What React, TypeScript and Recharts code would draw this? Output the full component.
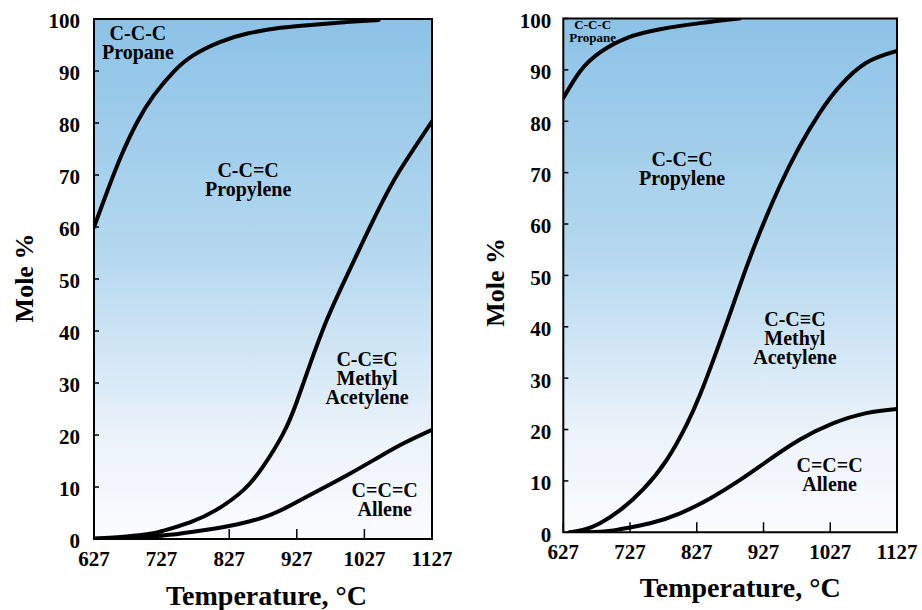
import React from 'react';
import { LineChart, Line, XAxis, YAxis, CartesianGrid, ReferenceArea, ReferenceDot, Label } from 'recharts';

const xTicks = [627, 727, 827, 927, 1027, 1127];
const yTicks = [0, 10, 20, 30, 40, 50, 60, 70, 80, 90, 100];

// Left panel
const leftPropane = [
  { t: 627, v: 60.0 }, { t: 647, v: 67.0 }, { t: 667, v: 73.6 }, { t: 691, v: 80.2 },
  { t: 716, v: 85.4 }, { t: 745, v: 89.9 }, { t: 775, v: 93.1 }, { t: 814, v: 95.6 },
  { t: 854, v: 97.2 }, { t: 903, v: 98.3 }, { t: 952, v: 98.9 }, { t: 1000, v: 99.4 },
  { t: 1048, v: 99.8 },
];
const leftMethylAcetylene = [
  { t: 627, v: 0.1 }, { t: 675, v: 0.5 }, { t: 710, v: 1.0 }, { t: 730, v: 1.6 },
  { t: 769, v: 3.2 }, { t: 808, v: 5.6 }, { t: 848, v: 9.4 }, { t: 877, v: 13.9 },
  { t: 907, v: 20.3 }, { t: 927, v: 26.4 }, { t: 946, v: 33.4 }, { t: 971, v: 42.0 },
  { t: 998, v: 49.8 }, { t: 1045, v: 62.6 }, { t: 1080, v: 71.0 }, { t: 1127, v: 80.3 },
];
const leftAllene = [
  { t: 627, v: 0 }, { t: 690, v: 0.3 }, { t: 739, v: 0.8 }, { t: 789, v: 1.7 },
  { t: 838, v: 2.8 }, { t: 887, v: 4.6 }, { t: 927, v: 7.1 }, { t: 966, v: 9.8 },
  { t: 1006, v: 12.6 }, { t: 1045, v: 15.5 }, { t: 1085, v: 18.4 }, { t: 1127, v: 21.0 },
];

// Right panel
const rightPropane = [
  { t: 627, v: 84.5 }, { t: 652, v: 89.7 }, { t: 682, v: 93.4 }, { t: 722, v: 96.2 },
  { t: 772, v: 97.9 }, { t: 832, v: 99.1 }, { t: 891, v: 100 },
];
const rightMethylAcetylene = [
  { t: 637, v: 0 }, { t: 660, v: 0.6 }, { t: 682, v: 1.75 }, { t: 712, v: 4.3 },
  { t: 747, v: 8.4 }, { t: 782, v: 14.1 }, { t: 812, v: 21.0 }, { t: 832, v: 26.8 },
  { t: 852, v: 33.6 }, { t: 877, v: 42.6 }, { t: 897, v: 50.0 }, { t: 921, v: 58.2 },
  { t: 951, v: 67.3 }, { t: 981, v: 75.1 }, { t: 1011, v: 81.6 }, { t: 1041, v: 86.8 },
  { t: 1081, v: 91.4 }, { t: 1127, v: 93.7 },
];
const rightAllene = [
  { t: 637, v: 0 }, { t: 682, v: 0.1 }, { t: 712, v: 0.6 }, { t: 757, v: 1.75 },
  { t: 802, v: 3.7 }, { t: 847, v: 6.6 }, { t: 892, v: 10.2 }, { t: 932, v: 13.8 },
  { t: 981, v: 18.0 }, { t: 1031, v: 21.2 }, { t: 1081, v: 23.2 }, { t: 1127, v: 24.0 },
];

const leftLabels = [
  { t: 692, v: 95.5, lines: ['C-C-C', 'Propane'] },
  { t: 855, v: 69.2, lines: ['C-C=C', 'Propylene'] },
  { t: 1031, v: 31.0, lines: ['C-C\u2261C', 'Methyl', 'Acetylene'] },
  { t: 1057, v: 7.6, lines: ['C=C=C', 'Allene'] },
];
const rightLabels = [
  { t: 671, v: 97.6, lines: ['C-C-C', 'Propane'] },
  { t: 805, v: 70.9, lines: ['C-C=C', 'Propylene'] },
  { t: 974, v: 37.9, lines: ['C-C\u2261C', 'Methyl', 'Acetylene'] },
  { t: 1026, v: 11.2, lines: ['C=C=C', 'Allene'] },
];

const FONT = '"Liberation Serif", "Times New Roman", serif';

const XTick = (props: any) => {
  const { x, y, payload, m } = props;
  const ay = y - m;
  return (
    <g>
      <line x1={x} x2={x} y1={ay} y2={ay - 10} stroke="#000" strokeWidth={1.5} />
      <text x={x} y={y} dy="0.71em" textAnchor="middle" fontFamily={FONT} fontWeight="bold" fontSize={21} fill="#000">
        {payload.value}
      </text>
    </g>
  );
};

const YTick = (props: any) => {
  const { x, y, payload, m } = props;
  const ax = x + m;
  return (
    <g>
      <line x1={ax} x2={ax + 5} y1={y} y2={y} stroke="#000" strokeWidth={1.5} />
      <text x={x} y={y} dy="0.45em" textAnchor="end" fontFamily={FONT} fontWeight="bold" fontSize={21} fill="#000">
        {payload.value}
      </text>
    </g>
  );
};

const makeLabelShape = (lines: string[], fs: number, lh: number) => (p: any) => {
  const { cx, cy } = p;
  const n = lines.length;
  return (
    <text textAnchor="middle" fontFamily={FONT} fontWeight="bold" fontSize={fs} fill="#000">
      {lines.map((ln, i) => (
        <tspan key={i} x={cx} y={cy + (i - (n - 1) / 2) * lh + 0.35 * fs}>{ln}</tspan>
      ))}
    </text>
  );
};

type PanelCfg = {
  gid: string; width: number; top: number; right: number; xh: number; yw: number; ym: number;
  series: { t: number; v: number }[][];
  labels: { t: number; v: number; lines: string[] }[];
  labelSizes: number[]; labelLH: number[];
  xdx: number; xoff: number; ydy: number; yoff: number;
};

function Panel({ c }: { c: PanelCfg }) {
  return (
    <LineChart width={c.width} height={610} margin={{ top: c.top, right: c.right, bottom: 0, left: 0 }}>
      <defs>
        <linearGradient id={c.gid} x1="0" y1="0" x2="0" y2="1">
          <stop offset="0%" stopColor="#8cc2e6" />
          <stop offset="45%" stopColor="#b4d8ef" />
          <stop offset="80%" stopColor="#eaf2fa" />
          <stop offset="100%" stopColor="#fcfcfe" />
        </linearGradient>
      </defs>
      <CartesianGrid horizontal={false} vertical={false} fill={`url(#${c.gid})`} fillOpacity={1} stroke="none" />
      <XAxis type="number" dataKey="t" domain={[627, 1127]} ticks={xTicks} interval={0} allowDataOverflow
        height={c.xh} axisLine={false} tickLine={false} tickSize={0} tickMargin={12} tick={<XTick m={12} />}>
        <Label value="Temperature, °C" position="insideBottom" offset={c.xoff} dx={c.xdx}
          style={{ fontFamily: FONT, fontWeight: 'bold', fontSize: 28, fill: '#000' }} />
      </XAxis>
      <YAxis type="number" domain={[0, 100]} ticks={yTicks} interval={0} allowDataOverflow width={c.yw}
        axisLine={false} tickLine={false} tickSize={0} tickMargin={c.ym} tick={<YTick m={c.ym} />}>
        <Label value="Mole %" angle={-90} position="insideLeft" offset={c.yoff} dy={c.ydy}
          style={{ fontFamily: FONT, fontWeight: 'bold', fontSize: 26, fill: '#000', textAnchor: 'middle' }} />
      </YAxis>
      <ReferenceArea x1={627} x2={1127} y1={0} y2={100} fill="none" fillOpacity={0} stroke="#000" strokeWidth={2} ifOverflow="visible" />
      {c.series.map((s, i) => (
        <Line key={i} data={s} dataKey="v" type="natural" stroke="#000" strokeWidth={4} dot={false}
          isAnimationActive={false} strokeLinecap="round" />
      ))}
      {c.labels.map((l, i) => (
        <ReferenceDot key={'l' + i} x={l.t} y={l.v} r={0} ifOverflow="visible"
          shape={makeLabelShape(l.lines, c.labelSizes[i], c.labelLH[i])} />
      ))}
    </LineChart>
  );
}

const leftCfg: PanelCfg = {
  gid: 'gL', width: 460, top: 19, right: 28, xh: 71, yw: 94, ym: 14,
  series: [leftPropane, leftMethylAcetylene, leftAllene],
  labels: leftLabels, labelSizes: [20, 20, 20, 20], labelLH: [19, 19, 19, 19],
  xdx: 3.5, xoff: 5, ydy: -1, yoff: 24,
};
const rightCfg: PanelCfg = {
  gid: 'gR', width: 462, top: 18.5, right: 25, xh: 77.7, yw: 103.3, ym: 12,
  series: [rightPropane, rightMethylAcetylene, rightAllene],
  labels: rightLabels, labelSizes: [13, 20, 20, 20], labelLH: [13, 19, 19, 19],
  xdx: 10, xoff: 13.5, ydy: 7, yoff: 35,
};

export default function App() {
  return (
    <div style={{ position: 'absolute', left: 0, top: 0, width: 922, height: 610, background: '#fff' }}>
      <div style={{ position: 'absolute', left: 0, top: 0 }}>
        <Panel c={leftCfg} />
      </div>
      <div style={{ position: 'absolute', left: 460, top: 0 }}>
        <Panel c={rightCfg} />
      </div>
    </div>
  );
}
